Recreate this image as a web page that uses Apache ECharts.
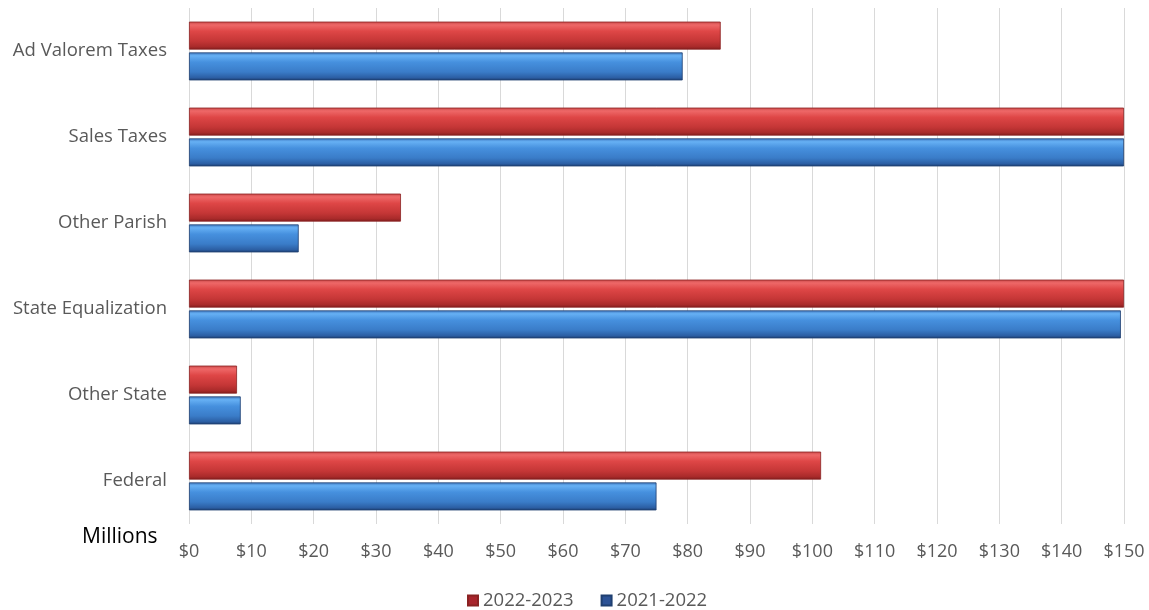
<!DOCTYPE html>
<html><head><meta charset="utf-8">
<script src="https://cdn.jsdelivr.net/npm/echarts@6/dist/echarts.min.js"></script>
<style>html,body{margin:0;padding:0;background:#fff}#c{width:1149px;height:610px}</style>
</head><body><div id="c"></div>
<script>
const categories = ['Ad Valorem Taxes','Sales Taxes','Other Parish','State Equalization','Other State','Federal'];
const seriesNames = ['2022-2023','2021-2022'];
const values2223 = [85.3, 150, 34.0, 150, 7.7, 101.4];
const values2122 = [79.2, 150, 17.6, 149.5, 8.3, 75.0];
const tickLabels = ['$0','$10','$20','$30','$40','$50','$60','$70','$80','$90','$100','$110','$120','$130','$140','$150'];

const FONT = '"Open Sans", Lato, sans-serif';
function grad(stops){return new echarts.graphic.LinearGradient(0,0,0,1,stops.map((c,i)=>({offset:c[0],color:c[1]})));}
const redGrad = grad([[0,'#c84848'],[0.12,'#ee6868'],[0.35,'#de4646'],[0.7,'#c43636'],[0.9,'#a82a2a'],[1,'#7e1c1c']]);
const blueGrad = grad([[0,'#3f78c0'],[0.12,'#66b0f4'],[0.35,'#4690de'],[0.7,'#3a7cc8'],[0.9,'#2c5fa4'],[1,'#1c3d70']]);

const chart = echarts.init(document.getElementById('c'));
chart.setOption({
  animation:false,
  grid:{left:189,right:25,top:8,bottom:86,containLabel:false},
  legend:{
    bottom:0,left:467,padding:[0,0,0,0],itemWidth:10,itemHeight:10,itemGap:27,
    textStyle:{fontFamily:FONT,fontSize:18.5,color:'#595959'},
    data:[{name:seriesNames[0],icon:'rect',itemStyle:{color:'#a8242c'}},{name:seriesNames[1],icon:'rect',itemStyle:{color:'#2c5296'}}]
  },
  xAxis:{
    type:'value',min:0,max:150,interval:10,
    axisLine:{show:false},axisTick:{show:false},
    splitLine:{show:true,lineStyle:{color:'#d9d9d9',width:1}},
    axisLabel:{fontFamily:FONT,fontSize:18,color:'#595959',margin:19,
      formatter:(v)=>tickLabels[Math.round(v/10)]}
  },
  yAxis:{
    type:'category',inverse:true,data:categories,
    axisLine:{show:false},axisTick:{show:false},
    axisLabel:{fontFamily:FONT,fontSize:18.5,color:'#595959',margin:22}
  },
  graphic:[{type:'text',left:82,top:527,style:{text:'Millions',fontFamily:FONT,fontSize:21,fill:'#000'}}],
  series:[
    {name:seriesNames[0],type:'bar',data:values2223,barWidth:28,barGap:'10%',
     itemStyle:{color:redGrad,borderColor:'#8a2222',borderWidth:0.8}},
    {name:seriesNames[1],type:'bar',data:values2122,barWidth:28,barGap:'10%',
     itemStyle:{color:blueGrad,borderColor:'#1f3f70',borderWidth:0.8}}
  ]
});
</script></body></html>
